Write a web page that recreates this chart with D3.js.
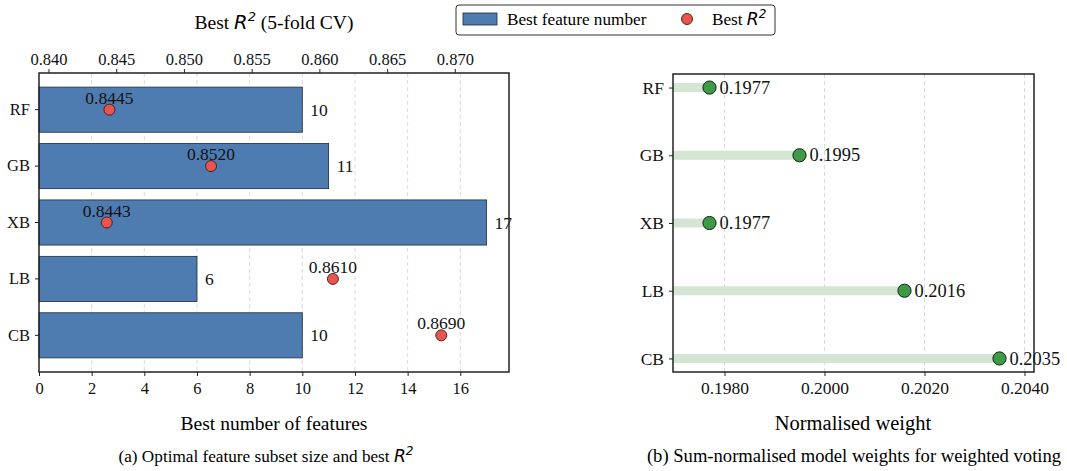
<!DOCTYPE html>
<html>
<head>
<meta charset="utf-8">
<script src="https://cdn.jsdelivr.net/npm/d3@7"></script>
<style>
  body { margin: 0; background: #fff; }
  svg { display: block; font-family: "Liberation Serif", "Times New Roman", serif; }
  .math { font-family: "DejaVu Sans", sans-serif; font-style: italic; }
</style>
</head>
<body>
<svg id="chart"></svg>
<script>
const width = 1067;
const height = 471;

// data
const models = ['RF', 'GB', 'XB', 'LB', 'CB'];
const featureCounts = [10, 11, 17, 6, 10];
const bestR2 = [0.8445, 0.8520, 0.8443, 0.8610, 0.8690];
const weights = [0.1977, 0.1995, 0.1977, 0.2016, 0.2035];
const countTicks = [0, 2, 4, 6, 8, 10, 12, 14, 16];
const r2Ticks = [0.840, 0.845, 0.850, 0.855, 0.860, 0.865, 0.870];
const weightTicks = [0.1980, 0.2000, 0.2020, 0.2040];

const barColor = '#4f7cb0';
const redColor = '#e8554d';
const greenColor = '#3f9a48';
const stemColor = '#d5e5d3';

const svg = d3.select('#chart')
  .attr('width', width)
  .attr('height', height);

// ---------- left panel ----------
const left = {x0: 39, x1: 509, y0: 73, y1: 372};

const xCount = d3.scaleLinear()
  .domain([0, 17.85])
  .range([left.x0, left.x1]);

const xR2 = d3.scaleLinear()
  .domain([d3.min(bestR2) - 0.005, d3.max(bestR2) + 0.005])
  .range([left.x0, left.x1]);

const yLeft = d3.scaleBand()
  .domain(models)
  .range([left.y0, left.y1])
  .paddingInner(0.2)
  .paddingOuter(0.25);

const gLeft = svg.append('g');

// grid
gLeft.selectAll('.grid')
  .data(countTicks.slice(1))
  .enter()
  .append('line')
  .attr('x1', d => xCount(d))
  .attr('x2', d => xCount(d))
  .attr('y1', left.y0)
  .attr('y2', left.y1)
  .attr('stroke', '#cfcfcf')
  .attr('stroke-width', 0.8)
  .attr('stroke-dasharray', '4,3');

// bars
gLeft.selectAll('.bar')
  .data(models)
  .enter()
  .append('rect')
  .attr('x', left.x0)
  .attr('y', d => yLeft(d))
  .attr('width', (d, i) => xCount(featureCounts[i]) - left.x0)
  .attr('height', yLeft.bandwidth())
  .attr('fill', barColor)
  .attr('stroke', '#1f2a38')
  .attr('stroke-width', 0.8);

// bar value labels
gLeft.selectAll('.barLabel')
  .data(models)
  .enter()
  .append('text')
  .attr('x', (d, i) => xCount(featureCounts[i]) + 8)
  .attr('y', d => yLeft(d) + yLeft.bandwidth() / 2)
  .attr('dy', '0.35em')
  .attr('font-size', 17.5)
  .attr('fill', '#111')
  .text((d, i) => featureCounts[i]);

// R2 points
gLeft.selectAll('.pt')
  .data(models)
  .enter()
  .append('circle')
  .attr('cx', (d, i) => xR2(bestR2[i]))
  .attr('cy', d => yLeft(d) + yLeft.bandwidth() / 2)
  .attr('r', 5.5)
  .attr('fill', redColor)
  .attr('stroke', '#3a1a18')
  .attr('stroke-width', 0.9);

gLeft.selectAll('.ptLabel')
  .data(models)
  .enter()
  .append('text')
  .attr('x', (d, i) => xR2(bestR2[i]))
  .attr('y', d => yLeft(d) + yLeft.bandwidth() / 2 - 6)
  .attr('text-anchor', 'middle')
  .attr('font-size', 17.5)
  .attr('fill', '#111')
  .text((d, i) => bestR2[i].toFixed(4));

// axes
const axisBottomL = d3.axisBottom(xCount).tickValues(countTicks).tickSize(4).tickPadding(6);
gLeft.append('g')
  .attr('class', 'axL')
  .attr('transform', `translate(0, ${left.y1})`)
  .call(axisBottomL);

const axisTopL = d3.axisTop(xR2).tickValues(r2Ticks).tickFormat(d3.format('.3f')).tickSize(4).tickPadding(4);
gLeft.append('g')
  .attr('class', 'axL')
  .attr('transform', `translate(0, ${left.y0})`)
  .call(axisTopL);

const axisLeftL = d3.axisLeft(yLeft).tickSize(4).tickPadding(5);
gLeft.append('g')
  .attr('class', 'axL')
  .attr('transform', `translate(${left.x0}, 0)`)
  .call(axisLeftL);

// frame
gLeft.append('rect')
  .attr('x', left.x0)
  .attr('y', left.y0)
  .attr('width', left.x1 - left.x0)
  .attr('height', left.y1 - left.y0)
  .attr('fill', 'none')
  .attr('stroke', '#222')
  .attr('stroke-width', 1.5);

// titles
const topTitle = gLeft.append('text')
  .attr('x', 274)
  .attr('y', 29)
  .attr('text-anchor', 'middle')
  .attr('font-size', 19.5);
topTitle.append('tspan').text('Best ');
topTitle.append('tspan').attr('class', 'math').text('R');
topTitle.append('tspan').attr('class', 'math').attr('font-size', 13).attr('font-style', 'normal').attr('dy', -8).text('2');
topTitle.append('tspan').attr('dy', 8).text(' (5-fold CV)');

gLeft.append('text')
  .attr('x', 274)
  .attr('y', 430)
  .attr('text-anchor', 'middle')
  .attr('font-size', 19.5)
  .text('Best number of features');

const capA = gLeft.append('text')
  .attr('x', 266)
  .attr('y', 462)
  .attr('text-anchor', 'middle')
  .attr('font-size', 17.2);
capA.append('tspan').text('(a) Optimal feature subset size and best ');
capA.append('tspan').attr('class', 'math').text('R');
capA.append('tspan').attr('class', 'math').attr('font-size', 12).attr('font-style', 'normal').attr('dy', -7).text('2');

// ---------- right panel ----------
const right = {x0: 673, x1: 1034, y0: 74, y1: 372};

const xW = d3.scaleLinear()
  .domain([0.19697, 0.20419])
  .range([right.x0, right.x1]);

const yRight = d3.scalePoint()
  .domain(models)
  .range([right.y0, right.y1])
  .padding(0.2);

const gRight = svg.append('g');

gRight.selectAll('.grid')
  .data(weightTicks)
  .enter()
  .append('line')
  .attr('x1', d => xW(d))
  .attr('x2', d => xW(d))
  .attr('y1', right.y0)
  .attr('y2', right.y1)
  .attr('stroke', '#cfcfcf')
  .attr('stroke-width', 0.8)
  .attr('stroke-dasharray', '4,3');

gRight.selectAll('.stem')
  .data(models)
  .enter()
  .append('line')
  .attr('x1', right.x0)
  .attr('x2', (d, i) => xW(weights[i]))
  .attr('y1', d => yRight(d))
  .attr('y2', d => yRight(d))
  .attr('stroke', stemColor)
  .attr('stroke-width', 9);

gRight.selectAll('.dot')
  .data(models)
  .enter()
  .append('circle')
  .attr('cx', (d, i) => xW(weights[i]))
  .attr('cy', d => yRight(d))
  .attr('r', 6.6)
  .attr('fill', greenColor)
  .attr('stroke', '#142414')
  .attr('stroke-width', 1);

gRight.selectAll('.dotLabel')
  .data(models)
  .enter()
  .append('text')
  .attr('x', (d, i) => xW(weights[i]) + 10)
  .attr('y', d => yRight(d))
  .attr('dy', '0.33em')
  .attr('font-size', 18.4)
  .attr('fill', '#111')
  .text((d, i) => weights[i].toFixed(4));

const axisBottomR = d3.axisBottom(xW).tickValues(weightTicks).tickFormat(d3.format('.4f')).tickSize(4).tickPadding(6);
gRight.append('g')
  .attr('class', 'axR')
  .attr('transform', `translate(0, ${right.y1})`)
  .call(axisBottomR);

const axisLeftR = d3.axisLeft(yRight).tickSize(4).tickPadding(5);
gRight.append('g')
  .attr('class', 'axR')
  .attr('transform', `translate(${right.x0}, 0)`)
  .call(axisLeftR);

gRight.append('rect')
  .attr('x', right.x0)
  .attr('y', right.y0)
  .attr('width', right.x1 - right.x0)
  .attr('height', right.y1 - right.y0)
  .attr('fill', 'none')
  .attr('stroke', '#222')
  .attr('stroke-width', 1.5);

gRight.append('text')
  .attr('x', 853)
  .attr('y', 430)
  .attr('text-anchor', 'middle')
  .attr('font-size', 20.5)
  .text('Normalised weight');

gRight.append('text')
  .attr('x', 854)
  .attr('y', 462)
  .attr('text-anchor', 'middle')
  .attr('font-size', 18.6)
  .text('(b) Sum-normalised model weights for weighted voting');

// axis text style
svg.selectAll('.tick text')
  .attr('font-family', '"Liberation Serif", "Times New Roman", serif')
  .attr('fill', '#111');
svg.selectAll('.axL .tick text').attr('font-size', 16.5);
svg.selectAll('.axR .tick text').attr('font-size', 17.5);
svg.selectAll('.domain').attr('stroke', 'none');
svg.selectAll('.tick line').attr('stroke', '#222').attr('stroke-width', 1);

// ---------- legend ----------
const legend = svg.append('g');
legend.append('rect')
  .attr('x', 456)
  .attr('y', 5)
  .attr('width', 319)
  .attr('height', 30)
  .attr('rx', 3)
  .attr('fill', '#fff')
  .attr('stroke', '#333')
  .attr('stroke-width', 1);
legend.append('rect')
  .attr('x', 463)
  .attr('y', 13)
  .attr('width', 34)
  .attr('height', 12)
  .attr('fill', barColor)
  .attr('stroke', '#1f2a38')
  .attr('stroke-width', 0.8);
legend.append('text')
  .attr('x', 507)
  .attr('y', 25)
  .attr('font-size', 17.2)
  .text('Best feature number');
legend.append('circle')
  .attr('cx', 687)
  .attr('cy', 19)
  .attr('r', 5.5)
  .attr('fill', redColor)
  .attr('stroke', '#3a1a18')
  .attr('stroke-width', 0.9);
const legR2 = legend.append('text')
  .attr('x', 712)
  .attr('y', 25)
  .attr('font-size', 17.2);
legR2.append('tspan').text('Best ');
legR2.append('tspan').attr('class', 'math').text('R');
legR2.append('tspan').attr('class', 'math').attr('font-size', 12).attr('font-style', 'normal').attr('dy', -7).text('2');
</script>
</body>
</html>
